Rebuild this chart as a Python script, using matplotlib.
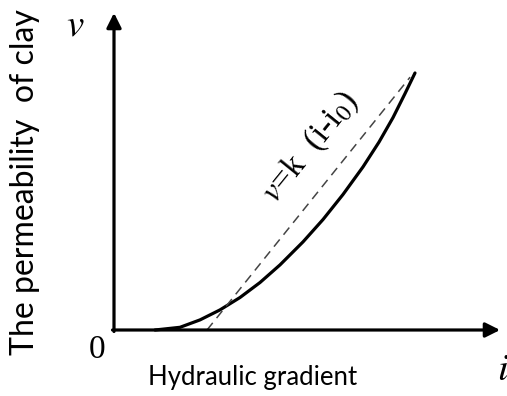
import matplotlib
matplotlib.use("Agg")
from matplotlib import pyplot as plt
import numpy as np

plt.rcParams['mathtext.fontset'] = 'stix'

# Curva de flujo no darciano en arcillas (i, v)
i_curva = [1.367, 2.2, 2.867, 3.533, 4.2, 4.867, 5.533, 6.3, 6.967, 7.633, 8.3, 8.833, 9.3, 9.7, 10.033]
v_curva = [0.0, 0.09, 0.337, 0.67, 1.083, 1.583, 2.17, 2.937, 3.683, 4.517, 5.437, 6.263, 7.08, 7.88, 8.567]

# Recta de Darcy desplazada v = k (i - i0)
i0 = 3.1
k = 1.245
i_recta = [i0, 9.87]

# Límites de los ejes con flecha
i_max = 12.87
v_max = 10.57

fig = plt.figure(figsize=(5.07, 3.96), dpi=100)
ax = fig.add_axes([0, 0, 1, 1])
ax.set_xlim(-3.8, 13.1)
ax.set_ylim(-2.2, 11.0)
ax.axis('off')

# Ejes con flechas
flecha = dict(arrowstyle='-|>', lw=2.3, color='black', mutation_scale=22,
              shrinkA=0, shrinkB=0)
ax.annotate('', xy=(i_max, 0), xytext=(-0.05, 0), arrowprops=flecha)
ax.annotate('', xy=(0, v_max), xytext=(0, -0.05), arrowprops=flecha)

# Curva y recta
ax.plot(i_curva, v_curva, color='black', lw=2.3, solid_capstyle='round',
        solid_joinstyle='round')
v_recta = [k * (x - i0) for x in i_recta]
ax.plot(i_recta, v_recta, color='#444444', lw=1.1, dashes=(6, 4))

ax.text(6.55, 6.1, r'$v$=k  (i-i$_0$)', rotation=51, fontsize=24,
        family='Liberation Serif', ha='center', va='center',
        rotation_mode='anchor')

# Rótulos
ax.text(-0.57, -0.67, '0', fontsize=24, family='Liberation Serif',
        ha='center', va='center')
ax.text(-1.3, 10.2, '$v$', fontsize=28, ha='center', va='center')
ax.text(12.75, -1.3, '$i$', fontsize=28, ha='left', va='center')
ax.text(-2.97, 4.92, 'The permeability  of clay', rotation=90, fontsize=23,
        family='Lato', ha='center', va='center')
ax.text(4.63, -1.6, 'Hydraulic gradient', fontsize=18.5, family='Lato',
        ha='center', va='center')

fig.savefig('out.png', dpi=100)
